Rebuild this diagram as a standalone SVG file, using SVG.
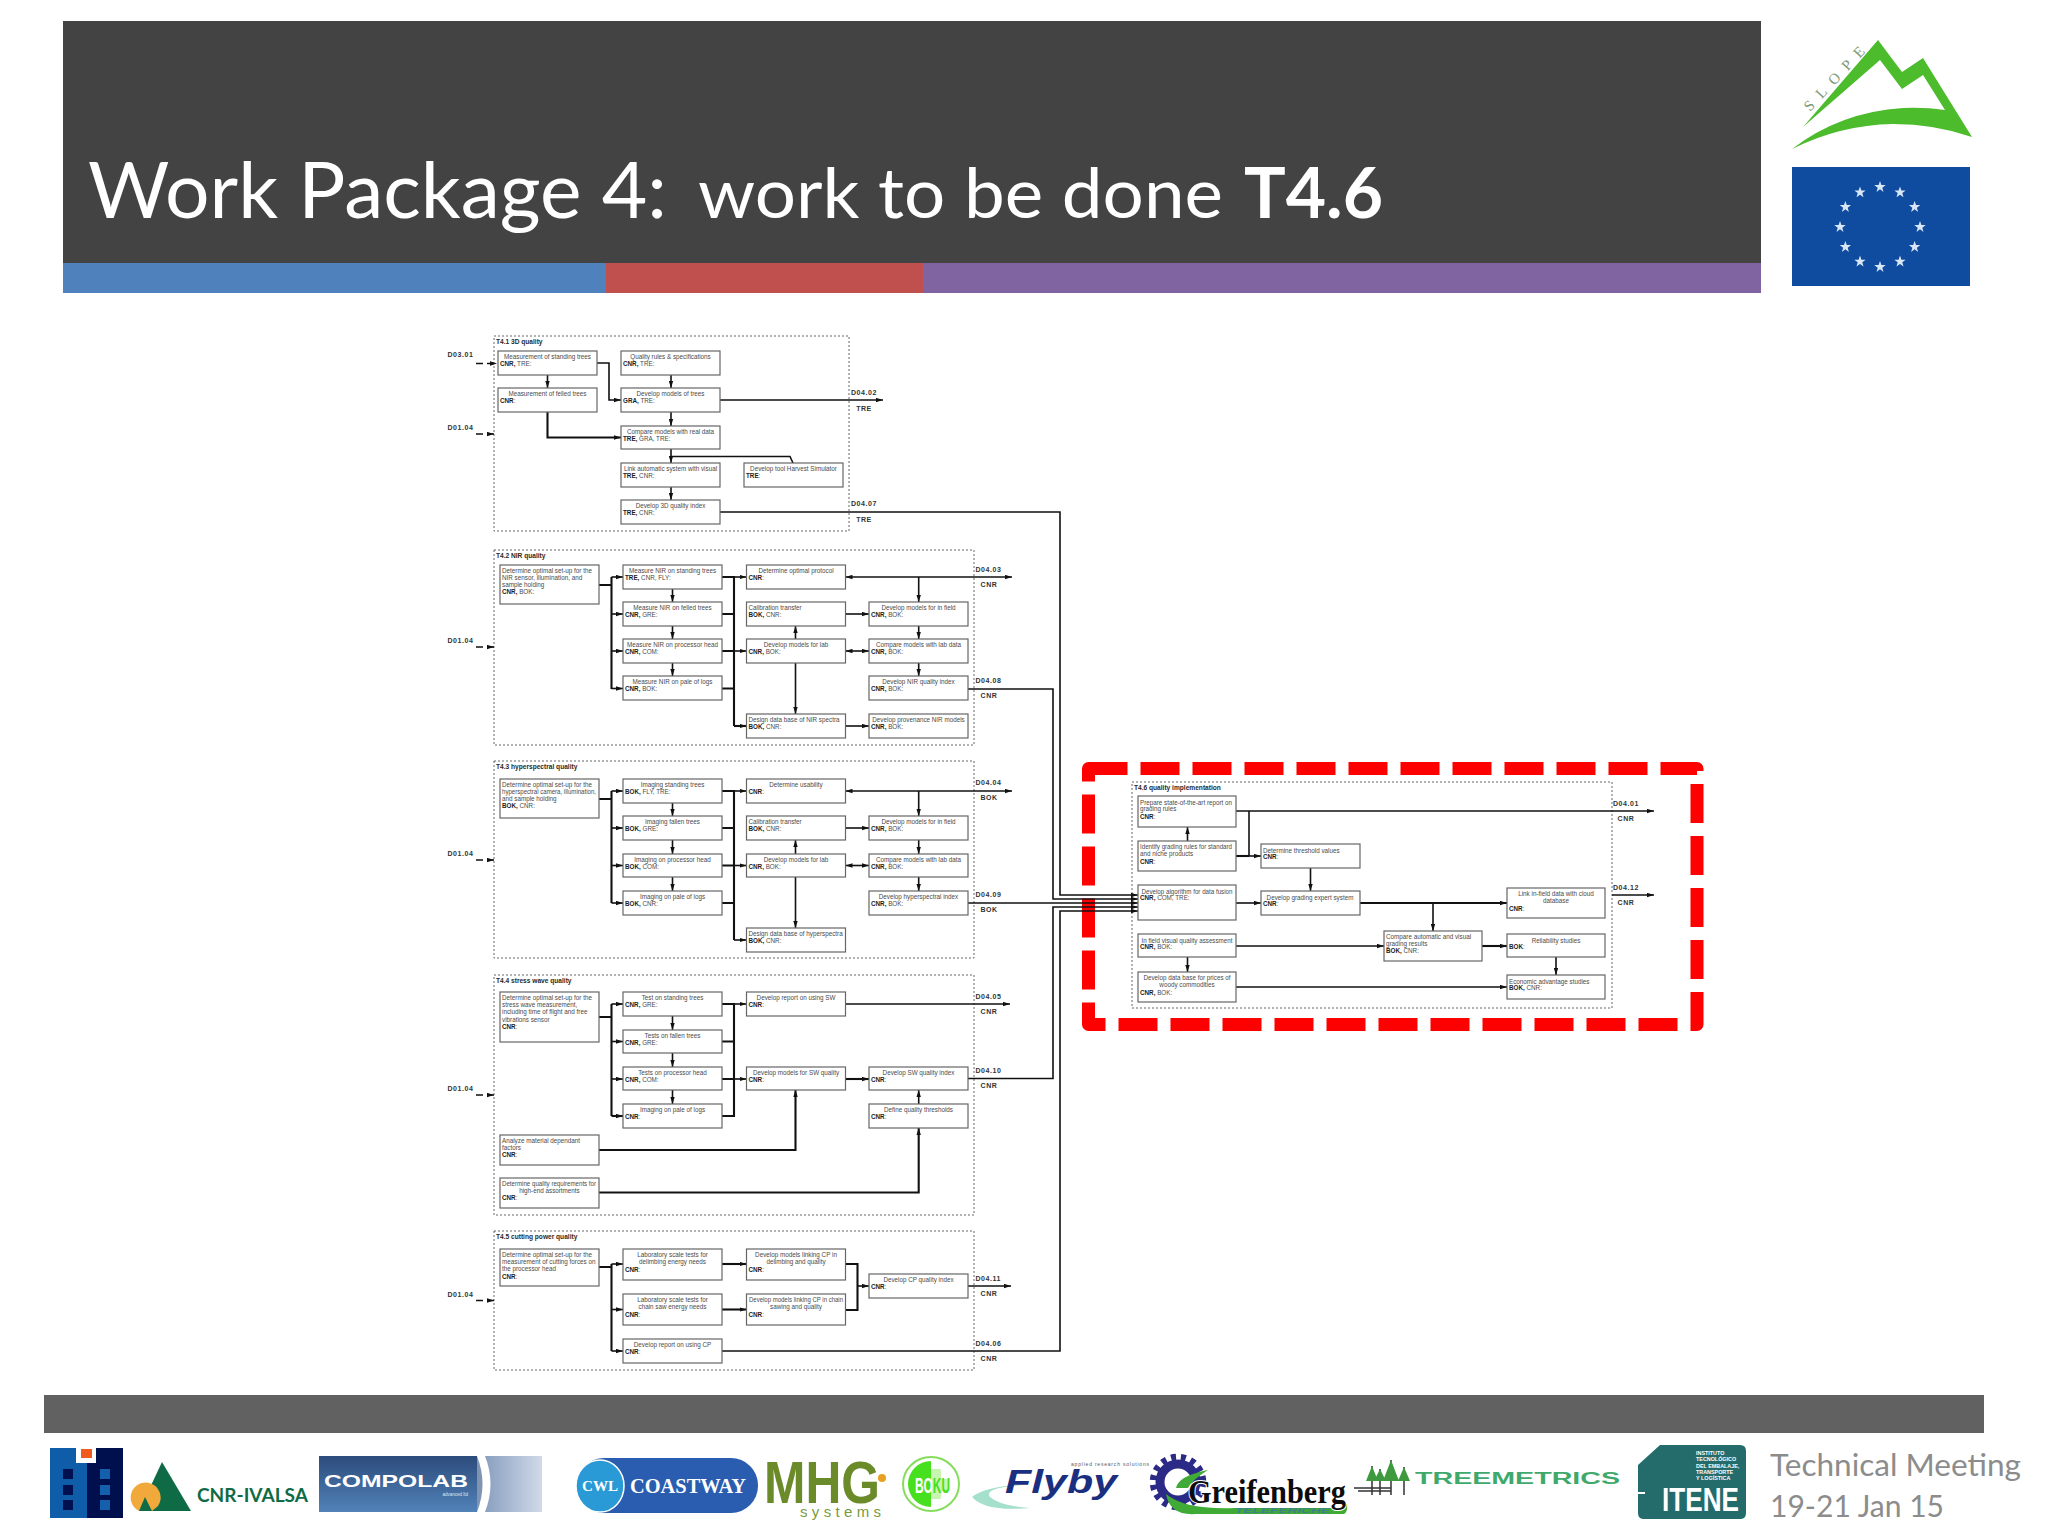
<svg xmlns="http://www.w3.org/2000/svg" width="2048" height="1536" viewBox="0 0 2048 1536">
<style>
.t{font-family:"Liberation Sans",Arial,sans-serif;font-size:6.3px;fill:#4a4a4a}
.s{font-weight:700;fill:#1c1c1c}
.m{text-anchor:middle}
.n{fill:#fff;stroke:#666;stroke-width:1.2}
.k{fill:none;stroke:#666;stroke-width:1;stroke-dasharray:2 2}
.h{font-family:"Liberation Sans",Arial,sans-serif;font-size:6.6px;font-weight:700;fill:#2a2a2a}
.d{font-family:"Liberation Sans",Arial,sans-serif;font-size:7px;font-weight:700;fill:#333;letter-spacing:.55px}
.c{fill:none;stroke:#111;stroke-width:1.6}
.w{stroke-width:2.1}
.e{marker-end:url(#a)}
.r{marker-start:url(#b)}
.i{stroke-dasharray:7 4}
.l{font-family:Lato,"Open Sans",sans-serif}
.sa{font-family:"Liberation Sans",Arial,sans-serif}
.se{font-family:"Liberation Serif","Times New Roman",serif}
</style>
<defs>
<marker id="a" markerUnits="userSpaceOnUse" markerWidth="8" markerHeight="5" refX="7" refY="2.5" orient="auto"><path d="M0 .3L7 2.5L0 4.7Z" fill="#111"/></marker>
<marker id="b" markerUnits="userSpaceOnUse" markerWidth="8" markerHeight="5" refX="7" refY="2.5" orient="auto-start-reverse"><path d="M0 .3L7 2.5L0 4.7Z" fill="#111"/></marker>
<polygon id="st" points="0,-6 1.4,-1.9 5.7,-1.9 2.3,.7 3.5,4.9 0,2.3 -3.5,4.9 -2.3,.7 -5.7,-1.9 -1.4,-1.9" fill="#d8e6f5"/>
<linearGradient id="g1" x1="0" y1="0" x2="0" y2="1"><stop offset="0" stop-color="#2c4c7c"/><stop offset="1" stop-color="#5182b8"/></linearGradient>
<linearGradient id="g2" x1="0" y1="0" x2="1" y2="0"><stop offset="0" stop-color="#8a9fc0"/><stop offset="1" stop-color="#d0dae8"/></linearGradient>
</defs>
<rect width="2048" height="1536" fill="#fff"/>

<g id="header">
<rect x="63" y="21" width="1698" height="242" fill="#434343"/>
<rect x="63" y="263" width="543" height="30" fill="#4f81bd"/>
<rect x="606" y="263" width="317" height="30" fill="#c0504d"/>
<rect x="923" y="263" width="838" height="30" fill="#8064a2"/>
<text class="l" x="88" y="218" font-size="78" fill="#fff" textLength="579" lengthAdjust="spacingAndGlyphs">Work Package 4:</text>
<text class="l" x="698" y="218" font-size="70" fill="#fff" textLength="525" lengthAdjust="spacingAndGlyphs">work to be done</text>
<text class="l" x="1244" y="218" font-size="70" font-weight="700" fill="#fff" textLength="139" lengthAdjust="spacingAndGlyphs">T4.6</text>
</g>

<g id="logo-slope">
<path d="M1803 127L1878 40L1902 72L1923 58L1972 137Q1935 124 1893 124Q1840 125 1792 149Q1840 112 1903 108Q1925 107 1945 110L1923 75L1902 89L1880 60Z" fill="#4cbb2c"/>
<text class="se" transform="translate(1810 112) rotate(-47)" font-size="15" fill="#7d9a78" letter-spacing="9">SLOPE</text>
</g>
<g id="logo-eu">
<rect x="1792" y="167" width="178" height="119" fill="#0f4c9f"/>
<use href="#st" x="1880" y="187"/><use href="#st" x="1900" y="192.4"/><use href="#st" x="1914.6" y="207"/><use href="#st" x="1920" y="227"/><use href="#st" x="1914.6" y="247"/><use href="#st" x="1900" y="261.6"/><use href="#st" x="1880" y="267"/><use href="#st" x="1860" y="261.6"/><use href="#st" x="1845.4" y="247"/><use href="#st" x="1840" y="227"/><use href="#st" x="1845.4" y="207"/><use href="#st" x="1860" y="192.4"/>
</g>

<g id="containers">
<rect class="k" x="494" y="336" width="355" height="195"/>
<rect class="k" x="494" y="550" width="480" height="195"/>
<rect class="k" x="494" y="761" width="480" height="197"/>
<rect class="k" x="494" y="975" width="480" height="240"/>
<rect class="k" x="494" y="1231" width="480" height="139"/>
<rect class="k" x="1132" y="782" width="480" height="226"/>
<text class="h" x="496" y="344">T4.1 3D quality</text>
<text class="h" x="496" y="558">T4.2 NIR quality</text>
<text class="h" x="496" y="769">T4.3 hyperspectral quality</text>
<text class="h" x="496" y="983">T4.4 stress wave quality</text>
<text class="h" x="496" y="1239">T4.5 cutting power quality</text>
<text class="h" x="1134" y="790">T4.6 quality implementation</text>
</g>

<path id="red-highlight" d="M1088.5 768.5H1697V1024.5H1088.5Z" fill="none" stroke="#ff0000" stroke-width="13" stroke-linejoin="round" stroke-dasharray="39 13"/>

<g id="connectors">
<path class="c i e" d="M476 363.5H497"/>
<path class="c i e" d="M476 434H494"/>
<path class="c i e" d="M476 647H494"/>
<path class="c i e" d="M476 860H494"/>
<path class="c i e" d="M476 1095H494"/>
<path class="c i e" d="M476 1300.5H494"/>

<path class="c e" d="M597 363H609V400H621"/>
<path class="c e" d="M547.5 375V388"/>
<path class="c w e" d="M547.5 412V437.5H621"/>
<path class="c e" d="M671 375V388"/>
<path class="c e" d="M671 412V426"/>
<path class="c e" d="M671 449V463"/>
<path class="c" d="M671 456.5H790L793 463"/>
<path class="c e" d="M671 487V500"/>
<path class="c e" d="M720 400H883"/>
<path class="c e" d="M720 512H1060V895H1138"/>

<path class="c w" d="M599 585H611.5M611.5 577V689"/>
<path class="c e" d="M611.5 577H623"/><path class="c e" d="M611.5 614H623"/><path class="c e" d="M611.5 651H623"/><path class="c e" d="M611.5 688.5H623"/>
<path class="c e" d="M672.5 589V602"/><path class="c e" d="M672.5 626V639"/><path class="c e" d="M672.5 663V676"/>
<path class="c w" d="M722 577H734M722 614H734M722 651H734M722 688.5H734M734 576V726"/>
<path class="c e" d="M734 577H746.5"/><path class="c e" d="M734 651H746.5"/><path class="c w e" d="M734 726H746.5"/>
<path class="c e" d="M795.5 639V626"/><path class="c e" d="M795.5 663V714"/>
<path class="c e" d="M845.5 614H869"/><path class="c r e" d="M845.5 651H869"/><path class="c e" d="M845.5 726H869"/>
<path class="c r e" d="M845.5 577H1012"/><path class="c e" d="M918.7 577V602"/><path class="c e" d="M918.7 626V639"/><path class="c e" d="M918.7 663V676"/>
<path class="c e" d="M968 689H1053V899H1138"/>

<path class="c w" d="M599 799H611.5M611.5 791V903"/>
<path class="c e" d="M611.5 791H623"/><path class="c e" d="M611.5 828H623"/><path class="c e" d="M611.5 865.5H623"/><path class="c e" d="M611.5 903H623"/>
<path class="c e" d="M672.5 803V816"/><path class="c e" d="M672.5 840V854"/><path class="c e" d="M672.5 877V891"/>
<path class="c w" d="M722 791H734M722 828H734M722 865.5H734M722 903H734M734 790V940"/>
<path class="c e" d="M734 791H746.5"/><path class="c e" d="M734 865.5H746.5"/><path class="c e" d="M734 940H746.5"/>
<path class="c e" d="M795.5 854V840"/><path class="c e" d="M795.5 877V928"/>
<path class="c e" d="M845.5 828H869"/><path class="c r e" d="M845.5 865.5H869"/>
<path class="c r e" d="M845.5 791H1012"/><path class="c e" d="M918.7 791V816"/><path class="c e" d="M918.7 840V854"/><path class="c e" d="M918.7 877V891"/>
<path class="c e" d="M968 903H1138"/>

<path class="c w" d="M599 1017H611.5M611.5 1004V1116"/>
<path class="c e" d="M611.5 1004H623"/><path class="c e" d="M611.5 1041.5H623"/><path class="c e" d="M611.5 1079H623"/><path class="c w e" d="M611.5 1116H623"/>
<path class="c e" d="M672.5 1016V1030"/><path class="c e" d="M672.5 1053V1067"/><path class="c e" d="M672.5 1090V1104"/>
<path class="c w" d="M722 1004H734M722 1041.5H734M722 1079H734M722 1116H734M734 1003V1117"/>
<path class="c e" d="M734 1004H746.5"/><path class="c e" d="M734 1079H746.5"/>
<path class="c e" d="M845.5 1004H1010"/>
<path class="c w e" d="M845.5 1079H869"/>
<path class="c e" d="M968 1078.5H1053V907H1138"/>
<path class="c e" d="M918.7 1104V1090"/>
<path class="c w e" d="M599 1150H795.5V1090"/>
<path class="c w e" d="M599 1192.5H918.7V1128"/>

<path class="c w" d="M599 1267H611.5M611.5 1264V1351"/>
<path class="c e" d="M611.5 1264H623"/><path class="c e" d="M611.5 1309.5H623"/><path class="c e" d="M611.5 1351H623"/>
<path class="c w e" d="M722 1264H746.5"/><path class="c w e" d="M722 1309.5H746.5"/>
<path class="c w" d="M845.5 1264H857.5V1310H845.5"/>
<path class="c e" d="M857.5 1286H869"/>
<path class="c e" d="M968 1286H1011"/>
<path class="c e" d="M722 1351H1060V911H1138"/>

<path class="c e" d="M1236 811H1654"/>
<path class="c" d="M1249 811V856"/>
<path class="c w" d="M1236 856H1249"/><path class="c e" d="M1249 856H1261"/>
<path class="c e" d="M1187.5 841V827"/>
<path class="c e" d="M1310.5 868V891"/>
<path class="c e" d="M1236 903H1261"/>
<path class="c w e" d="M1360 903H1507"/>
<path class="c e" d="M1433 903V931"/>
<path class="c e" d="M1236 946H1384"/>
<path class="c e" d="M1187.5 957V972"/>
<path class="c w e" d="M1482 946H1507"/>
<path class="c e" d="M1556 957V975"/>
<path class="c e" d="M1236 987H1507"/>
<path class="c e" d="M1612 895H1654"/>
</g>

<g id="labels">
<text class="d" x="447.5" y="356.5">D03.01</text>
<text class="d" x="447.5" y="429.5">D01.04</text>
<text class="d" x="447.5" y="643">D01.04</text>
<text class="d" x="447.5" y="856">D01.04</text>
<text class="d" x="447.5" y="1091">D01.04</text>
<text class="d" x="447.5" y="1296.5">D01.04</text>
<text class="d" x="851" y="394.5">D04.02</text><text class="d m" x="864" y="410.5">TRE</text>
<text class="d" x="851" y="505.5">D04.07</text><text class="d m" x="864" y="521.5">TRE</text>
<text class="d" x="975.5" y="571.5">D04.03</text><text class="d m" x="989" y="586.5">CNR</text>
<text class="d" x="975.5" y="683">D04.08</text><text class="d m" x="989" y="698">CNR</text>
<text class="d" x="975.5" y="785">D04.04</text><text class="d m" x="989" y="800">BOK</text>
<text class="d" x="975.5" y="896.5">D04.09</text><text class="d m" x="989" y="912">BOK</text>
<text class="d" x="975.5" y="998.5">D04.05</text><text class="d m" x="989" y="1013.5">CNR</text>
<text class="d" x="975.5" y="1073">D04.10</text><text class="d m" x="989" y="1088">CNR</text>
<text class="d" x="975.5" y="1280.5">D04.11</text><text class="d m" x="989" y="1295.5">CNR</text>
<text class="d" x="975.5" y="1345.5">D04.06</text><text class="d m" x="989" y="1360.5">CNR</text>
<text class="d" x="1613" y="805.5">D04.01</text><text class="d m" x="1626" y="820.5">CNR</text>
<text class="d" x="1613" y="889.5">D04.12</text><text class="d m" x="1626" y="904.5">CNR</text>
</g>

<g id="n-4-1-a"><rect class="n" x="498" y="351" width="99" height="24"/><text class="t m" x="547.5" y="359">Measurement of standing trees</text><text class="t" x="500" y="366"><tspan class="s">CNR,</tspan> TRE:</text></g>
<g id="n-4-1-b"><rect class="n" x="498" y="388" width="99" height="24"/><text class="t m" x="547.5" y="396">Measurement of felled trees</text><text class="t" x="500" y="403"><tspan class="s">CNR</tspan>:</text></g>
<g id="n-4-1-c"><rect class="n" x="621" y="351" width="99" height="24"/><text class="t m" x="670.5" y="359">Quality rules &amp; specifications</text><text class="t" x="623" y="366"><tspan class="s">CNR,</tspan> TRE:</text></g>
<g id="n-4-1-d"><rect class="n" x="621" y="388" width="99" height="24"/><text class="t m" x="670.5" y="396">Develop models of trees</text><text class="t" x="623" y="403"><tspan class="s">GRA,</tspan> TRE:</text></g>
<g id="n-4-1-e"><rect class="n" x="621" y="426" width="99" height="23"/><text class="t m" x="670.5" y="434">Compare models with real data</text><text class="t" x="623" y="441"><tspan class="s">TRE,</tspan> GRA, TRE:</text></g>
<g id="n-4-1-f"><rect class="n" x="621" y="463" width="99" height="24"/><text class="t m" x="670.5" y="471">Link automatic system with visual</text><text class="t" x="623" y="478"><tspan class="s">TRE,</tspan> CNR:</text></g>
<g id="n-4-1-g"><rect class="n" x="744" y="463" width="99" height="24"/><text class="t m" x="793.5" y="471">Develop tool Harvest Simulator</text><text class="t" x="746" y="478"><tspan class="s">TRE</tspan>:</text></g>
<g id="n-4-1-h"><rect class="n" x="621" y="500" width="99" height="24"/><text class="t m" x="670.5" y="508">Develop 3D quality index</text><text class="t" x="623" y="515"><tspan class="s">TRE,</tspan> CNR:</text></g>

<g id="n-4-2-a"><rect class="n" x="500" y="565" width="99" height="39"/><text class="t" x="502" y="573">Determine optimal set-up for the</text><text class="t" x="502" y="580">NIR sensor, illumination, and</text><text class="t" x="502" y="587">sample holding</text><text class="t" x="502" y="594"><tspan class="s">CNR,</tspan> BOK:</text></g>
<g id="n-4-2-b"><rect class="n" x="623" y="565" width="99" height="24"/><text class="t m" x="672.5" y="573">Measure NIR on standing trees</text><text class="t" x="625" y="580"><tspan class="s">TRE,</tspan> CNR, FLY:</text></g>
<g id="n-4-2-c"><rect class="n" x="623" y="602" width="99" height="24"/><text class="t m" x="672.5" y="610">Measure NIR on felled trees</text><text class="t" x="625" y="617"><tspan class="s">CNR,</tspan> GRE:</text></g>
<g id="n-4-2-d"><rect class="n" x="623" y="639" width="99" height="24"/><text class="t m" x="672.5" y="647">Measure NIR on processor head</text><text class="t" x="625" y="654"><tspan class="s">CNR,</tspan> COM:</text></g>
<g id="n-4-2-e"><rect class="n" x="623" y="676" width="99" height="24"/><text class="t m" x="672.5" y="684">Measure NIR on pale of logs</text><text class="t" x="625" y="691"><tspan class="s">CNR,</tspan> BOK:</text></g>
<g id="n-4-2-f"><rect class="n" x="746.5" y="565" width="99" height="24"/><text class="t m" x="796" y="573">Determine optimal protocol</text><text class="t" x="748.5" y="580"><tspan class="s">CNR</tspan>:</text></g>
<g id="n-4-2-g"><rect class="n" x="746.5" y="602" width="99" height="24"/><text class="t" x="748.5" y="610">Calibration transfer</text><text class="t" x="748.5" y="617"><tspan class="s">BOK,</tspan> CNR:</text></g>
<g id="n-4-2-h"><rect class="n" x="746.5" y="639" width="99" height="24"/><text class="t m" x="796" y="647">Develop models for lab</text><text class="t" x="748.5" y="654"><tspan class="s">CNR,</tspan> BOK:</text></g>
<g id="n-4-2-i"><rect class="n" x="746.5" y="714" width="99" height="24"/><text class="t" x="748.5" y="722">Design data base of NIR spectra</text><text class="t" x="748.5" y="729"><tspan class="s">BOK,</tspan> CNR:</text></g>
<g id="n-4-2-j"><rect class="n" x="869" y="602" width="99" height="24"/><text class="t m" x="918.5" y="610">Develop models for in field</text><text class="t" x="871" y="617"><tspan class="s">CNR,</tspan> BOK:</text></g>
<g id="n-4-2-k"><rect class="n" x="869" y="639" width="99" height="24"/><text class="t m" x="918.5" y="647">Compare models with lab data</text><text class="t" x="871" y="654"><tspan class="s">CNR,</tspan> BOK:</text></g>
<g id="n-4-2-l"><rect class="n" x="869" y="676" width="99" height="24"/><text class="t m" x="918.5" y="684">Develop NIR quality index</text><text class="t" x="871" y="691"><tspan class="s">CNR,</tspan> BOK:</text></g>
<g id="n-4-2-m"><rect class="n" x="869" y="714" width="99" height="24"/><text class="t m" x="918.5" y="722">Develop provenance NIR models</text><text class="t" x="871" y="729"><tspan class="s">CNR,</tspan> BOK:</text></g>

<g id="n-4-3-a"><rect class="n" x="500" y="779" width="99" height="39"/><text class="t" x="502" y="787">Determine optimal set-up for the</text><text class="t" x="502" y="794" textLength="94" lengthAdjust="spacingAndGlyphs">hyperspectral camera, illumination,</text><text class="t" x="502" y="801">and sample holding</text><text class="t" x="502" y="808"><tspan class="s">BOK,</tspan> CNR:</text></g>
<g id="n-4-3-b"><rect class="n" x="623" y="779" width="99" height="24"/><text class="t m" x="672.5" y="787">Imaging standing trees</text><text class="t" x="625" y="794"><tspan class="s">BOK,</tspan> FLY, TRE:</text></g>
<g id="n-4-3-c"><rect class="n" x="623" y="816" width="99" height="24"/><text class="t m" x="672.5" y="824">Imaging fallen trees</text><text class="t" x="625" y="831"><tspan class="s">BOK,</tspan> GRE:</text></g>
<g id="n-4-3-d"><rect class="n" x="623" y="854" width="99" height="23"/><text class="t m" x="672.5" y="862">Imaging on processor head</text><text class="t" x="625" y="869"><tspan class="s">BOK,</tspan> COM:</text></g>
<g id="n-4-3-e"><rect class="n" x="623" y="891" width="99" height="24"/><text class="t m" x="672.5" y="899">Imaging on pale of logs</text><text class="t" x="625" y="906"><tspan class="s">BOK,</tspan> CNR:</text></g>
<g id="n-4-3-f"><rect class="n" x="746.5" y="779" width="99" height="24"/><text class="t m" x="796" y="787">Determine usability</text><text class="t" x="748.5" y="794"><tspan class="s">CNR</tspan>:</text></g>
<g id="n-4-3-g"><rect class="n" x="746.5" y="816" width="99" height="24"/><text class="t" x="748.5" y="824">Calibration transfer</text><text class="t" x="748.5" y="831"><tspan class="s">BOK,</tspan> CNR:</text></g>
<g id="n-4-3-h"><rect class="n" x="746.5" y="854" width="99" height="23"/><text class="t m" x="796" y="862">Develop models for lab</text><text class="t" x="748.5" y="869"><tspan class="s">CNR,</tspan> BOK:</text></g>
<g id="n-4-3-i"><rect class="n" x="746.5" y="928" width="99" height="24"/><text class="t" x="748.5" y="936">Design data base of hyperspectra</text><text class="t" x="748.5" y="943"><tspan class="s">BOK,</tspan> CNR:</text></g>
<g id="n-4-3-j"><rect class="n" x="869" y="816" width="99" height="24"/><text class="t m" x="918.5" y="824">Develop models for in field</text><text class="t" x="871" y="831"><tspan class="s">CNR,</tspan> BOK:</text></g>
<g id="n-4-3-k"><rect class="n" x="869" y="854" width="99" height="23"/><text class="t m" x="918.5" y="862">Compare models with lab data</text><text class="t" x="871" y="869"><tspan class="s">CNR,</tspan> BOK:</text></g>
<g id="n-4-3-l"><rect class="n" x="869" y="891" width="99" height="24"/><text class="t m" x="918.5" y="899">Develop hyperspectral index</text><text class="t" x="871" y="906"><tspan class="s">CNR,</tspan> BOK:</text></g>

<g id="n-4-4-a"><rect class="n" x="500" y="992" width="99" height="50"/><text class="t" x="502" y="1000">Determine optimal set-up for the</text><text class="t" x="502" y="1007">stress wave measurement,</text><text class="t" x="502" y="1014">including time of flight and free</text><text class="t" x="502" y="1021.5">vibrations sensor</text><text class="t" x="502" y="1029"><tspan class="s">CNR</tspan>:</text></g>
<g id="n-4-4-b"><rect class="n" x="623" y="992" width="99" height="24"/><text class="t m" x="672.5" y="1000">Test on standing trees</text><text class="t" x="625" y="1007"><tspan class="s">CNR,</tspan> GRE:</text></g>
<g id="n-4-4-c"><rect class="n" x="623" y="1030" width="99" height="23"/><text class="t m" x="672.5" y="1038">Tests on fallen trees</text><text class="t" x="625" y="1045"><tspan class="s">CNR,</tspan> GRE:</text></g>
<g id="n-4-4-d"><rect class="n" x="623" y="1067" width="99" height="23"/><text class="t m" x="672.5" y="1075">Tests on processor head</text><text class="t" x="625" y="1082"><tspan class="s">CNR,</tspan> COM:</text></g>
<g id="n-4-4-e"><rect class="n" x="623" y="1104" width="99" height="24"/><text class="t m" x="672.5" y="1112">Imaging on pale of logs</text><text class="t" x="625" y="1119"><tspan class="s">CNR</tspan>:</text></g>
<g id="n-4-4-f"><rect class="n" x="746.5" y="992" width="99" height="24"/><text class="t m" x="796" y="1000">Develop report on using SW</text><text class="t" x="748.5" y="1007"><tspan class="s">CNR</tspan>:</text></g>
<g id="n-4-4-g"><rect class="n" x="746.5" y="1067" width="99" height="23"/><text class="t m" x="796" y="1075">Develop models for SW quality</text><text class="t" x="748.5" y="1082"><tspan class="s">CNR</tspan>:</text></g>
<g id="n-4-4-h"><rect class="n" x="869" y="1067" width="99" height="23"/><text class="t m" x="918.5" y="1075">Develop SW quality index</text><text class="t" x="871" y="1082"><tspan class="s">CNR</tspan>:</text></g>
<g id="n-4-4-i"><rect class="n" x="869" y="1104" width="99" height="24"/><text class="t m" x="918.5" y="1112">Define quality thresholds</text><text class="t" x="871" y="1119"><tspan class="s">CNR</tspan>:</text></g>
<g id="n-4-4-j"><rect class="n" x="500" y="1135" width="99" height="30"/><text class="t" x="502" y="1143">Analyze material dependant</text><text class="t" x="502" y="1150">factors</text><text class="t" x="502" y="1157"><tspan class="s">CNR</tspan>:</text></g>
<g id="n-4-4-k"><rect class="n" x="500" y="1178" width="99" height="30"/><text class="t" x="502" y="1186" textLength="94" lengthAdjust="spacingAndGlyphs">Determine quality requirements for</text><text class="t m" x="549.5" y="1193">high-end assortments</text><text class="t" x="502" y="1200"><tspan class="s">CNR</tspan>:</text></g>

<g id="n-4-5-a"><rect class="n" x="500" y="1249" width="99" height="37"/><text class="t" x="502" y="1257">Determine optimal set-up for the</text><text class="t" x="502" y="1264">measurement of cutting forces on</text><text class="t" x="502" y="1271">the processor head</text><text class="t" x="502" y="1278.5"><tspan class="s">CNR</tspan>:</text></g>
<g id="n-4-5-b"><rect class="n" x="623" y="1249" width="99" height="31"/><text class="t m" x="672.5" y="1257">Laboratory scale tests for</text><text class="t m" x="672.5" y="1264">delimbing energy needs</text><text class="t" x="625" y="1271.5"><tspan class="s">CNR</tspan>:</text></g>
<g id="n-4-5-c"><rect class="n" x="623" y="1294" width="99" height="31"/><text class="t m" x="672.5" y="1302">Laboratory scale tests for</text><text class="t m" x="672.5" y="1309">chain saw energy needs</text><text class="t" x="625" y="1316.5"><tspan class="s">CNR</tspan>:</text></g>
<g id="n-4-5-d"><rect class="n" x="623" y="1339" width="99" height="24"/><text class="t m" x="672.5" y="1347">Develop report on using CP</text><text class="t" x="625" y="1354"><tspan class="s">CNR</tspan>:</text></g>
<g id="n-4-5-e"><rect class="n" x="746.5" y="1249" width="99" height="31"/><text class="t m" x="796" y="1257">Develop models linking CP in</text><text class="t m" x="796" y="1264">delimbing and quality</text><text class="t" x="748.5" y="1271.5"><tspan class="s">CNR</tspan>:</text></g>
<g id="n-4-5-f"><rect class="n" x="746.5" y="1294" width="99" height="31"/><text class="t m" x="796" y="1302" textLength="94" lengthAdjust="spacingAndGlyphs">Develop models linking CP in chain</text><text class="t m" x="796" y="1309">sawing and quality</text><text class="t" x="748.5" y="1316.5"><tspan class="s">CNR</tspan>:</text></g>
<g id="n-4-5-g"><rect class="n" x="869" y="1274" width="99" height="24"/><text class="t m" x="918.5" y="1282">Develop CP quality index</text><text class="t" x="871" y="1289"><tspan class="s">CNR</tspan>:</text></g>

<g id="n-4-6-a"><rect class="n" x="1138" y="796" width="98" height="31"/><text class="t" x="1140" y="804.5" textLength="92" lengthAdjust="spacingAndGlyphs">Prepare state-of-the-art report on</text><text class="t" x="1140" y="811">grading rules</text><text class="t" x="1140" y="818.5"><tspan class="s">CNR</tspan>:</text></g>
<g id="n-4-6-b"><rect class="n" x="1138" y="841" width="98" height="30"/><text class="t" x="1140" y="849" textLength="92" lengthAdjust="spacingAndGlyphs">Identify grading rules for standard</text><text class="t" x="1140" y="856">and niche products</text><text class="t" x="1140" y="863.5"><tspan class="s">CNR</tspan>:</text></g>
<g id="n-4-6-c"><rect class="n" x="1138" y="885" width="98" height="35"/><text class="t m" x="1187" y="893.5" textLength="91" lengthAdjust="spacingAndGlyphs">Develop algorithm for data fusion</text><text class="t" x="1140" y="900"><tspan class="s">CNR,</tspan> COM, TRE:</text></g>
<g id="n-4-6-d"><rect class="n" x="1138" y="934" width="98" height="23"/><text class="t m" x="1187" y="942.5" textLength="91" lengthAdjust="spacingAndGlyphs">In field visual quality assessment</text><text class="t" x="1140" y="949"><tspan class="s">CNR,</tspan> BOK:</text></g>
<g id="n-4-6-e"><rect class="n" x="1138" y="972" width="98" height="30"/><text class="t m" x="1187" y="980">Develop data base for prices of</text><text class="t m" x="1187" y="987">woody commodities</text><text class="t" x="1140" y="994.5"><tspan class="s">CNR,</tspan> BOK:</text></g>
<g id="n-4-6-f"><rect class="n" x="1261" y="844" width="99" height="24"/><text class="t" x="1263" y="852.5">Determine threshold values</text><text class="t" x="1263" y="859"><tspan class="s">CNR</tspan>:</text></g>
<g id="n-4-6-g"><rect class="n" x="1261" y="891" width="99" height="24"/><text class="t m" x="1310" y="899.5">Develop grading expert system</text><text class="t" x="1263" y="906"><tspan class="s">CNR</tspan>:</text></g>
<g id="n-4-6-h"><rect class="n" x="1384" y="931" width="98" height="30"/><text class="t" x="1386" y="939">Compare automatic and visual</text><text class="t" x="1386" y="946">grading results</text><text class="t" x="1386" y="953"><tspan class="s">BOK,</tspan> CNR:</text></g>
<g id="n-4-6-i"><rect class="n" x="1507" y="888" width="98" height="30"/><text class="t m" x="1556" y="896">Link in-field data with cloud</text><text class="t m" x="1556" y="903">database</text><text class="t" x="1509" y="910.5"><tspan class="s">CNR</tspan>:</text></g>
<g id="n-4-6-j"><rect class="n" x="1507" y="934" width="98" height="23"/><text class="t m" x="1556" y="942.5">Reliability studies</text><text class="t" x="1509" y="949"><tspan class="s">BOK</tspan>:</text></g>
<g id="n-4-6-k"><rect class="n" x="1507" y="975" width="98" height="24"/><text class="t" x="1509" y="983.5">Economic advantage studies</text><text class="t" x="1509" y="990"><tspan class="s">BOK,</tspan> CNR:</text></g>

<rect id="footer-bar" x="44" y="1395" width="1940" height="38" fill="#616161"/>

<g id="logo-building">
<rect x="50" y="1448" width="37" height="70" fill="#0f5ca8"/><rect x="87" y="1448" width="36" height="70" fill="#00104f"/>
<rect x="76" y="1448" width="20" height="15" fill="#fff"/><rect x="81" y="1449" width="11" height="9" fill="#f05a1e"/>
<path d="M63 1469h10v10h-10zM63 1485h10v10h-10zM63 1500h10v10h-10z" fill="#001050"/>
<path d="M100 1469h10v10h-10zM100 1485h10v10h-10zM100 1500h10v10h-10z" fill="#1560ad"/>
</g>
<g id="logo-cnr">
<path d="M162 1462L191 1511H139Z" fill="#0f6b45"/>
<path d="M139 1511A15 15 0 1 1 158 1506L152 1511Z" fill="#f2a93b"/>
<path d="M145 1497L152 1511H139Z" fill="#0f6b45"/>
<text class="l" x="197" y="1502" font-size="18" font-weight="700" fill="#0f6b45" textLength="111" lengthAdjust="spacingAndGlyphs">CNR-IVALSA</text>
</g>
<g id="logo-compolab">
<rect x="319" y="1456" width="158" height="56" fill="url(#g1)"/>
<path d="M477 1456Q488 1484 477 1512" fill="#2c4c7c" opacity=".6"/>
<path d="M485 1456H542V1512H485Q496 1484 485 1456Z" fill="url(#g2)"/>
<text class="sa" x="324" y="1487" font-size="17" font-weight="700" fill="#fff" textLength="144" lengthAdjust="spacingAndGlyphs">COMPOLAB</text>
<text class="sa" x="468" y="1496" font-size="4.5" fill="#dfe8f2" text-anchor="end">advanced ltd</text>
</g>
<g id="logo-coastway">
<rect x="577" y="1458" width="181" height="55" rx="27" fill="#2a5db0"/>
<ellipse cx="600" cy="1486" rx="24" ry="26" fill="#2a9ad6" stroke="#fff" stroke-width="1.5"/>
<text class="se" x="582" y="1491" font-size="14" font-weight="700" fill="#fff" textLength="36" lengthAdjust="spacingAndGlyphs">CWL</text>
<text class="se" x="630" y="1493" font-size="22" font-weight="700" fill="#fff" textLength="116" lengthAdjust="spacingAndGlyphs">COASTWAY</text>
</g>
<g id="logo-mhg">
<text class="sa" x="764" y="1503" font-size="60" font-weight="700" fill="#6b8a2a" textLength="116" lengthAdjust="spacingAndGlyphs">MHG</text>
<circle cx="882" cy="1478" r="4" fill="#e8a020"/>
<text class="sa" x="800" y="1517" font-size="15" fill="#7a9a40" textLength="81">systems</text>
</g>
<g id="logo-boku">
<ellipse cx="931" cy="1484" rx="28" ry="27" fill="#fff" stroke="#86dd5c" stroke-width="2"/>
<path d="M931 1461A23 23 0 0 0 931 1507Z" fill="#47e01e"/>
<path d="M931 1469h10v10h8v12h-8v8h-10z" fill="#c8f5b0"/>
<text class="sa" x="915" y="1493" font-size="22" font-weight="700" fill="#fff" textLength="35" lengthAdjust="spacingAndGlyphs">BO<tspan fill="#47e01e">KU</tspan></text>
</g>
<g id="logo-flyby">
<path d="M972 1497Q985 1486 1030 1484L1005 1487Q985 1490 990 1497Q1000 1506 1030 1508Q985 1512 972 1497Z" fill="#a5e0cc"/>
<text class="sa" x="1005" y="1493" font-size="34" font-weight="700" font-style="italic" fill="#1b2f80" textLength="112" lengthAdjust="spacingAndGlyphs">Flyby</text>
<text class="sa" x="1071" y="1466" font-size="5" fill="#556" textLength="78">applied research solutions</text>
</g>
<g id="logo-greifenberg">
<circle cx="1178" cy="1482" r="25" fill="none" stroke="#2b2a86" stroke-width="6.5" stroke-dasharray="5 5"/>
<circle cx="1178" cy="1482" r="18" fill="none" stroke="#2b2a86" stroke-width="9"/>
<path d="M1166 1494Q1170 1516 1196 1514H1344Q1348 1512 1347 1504L1338 1508H1235Q1185 1510 1166 1494Z" fill="#3faa35"/>
<path d="M1176 1488Q1178 1476 1208 1470Q1192 1480 1188 1488Z" fill="#3faa35"/>
<text class="se" x="1188" y="1503" font-size="33" font-weight="700" fill="#0c0c0c" stroke="#fff" stroke-width="2" style="paint-order:stroke" textLength="158" lengthAdjust="spacingAndGlyphs">Greifenberg</text>
<text class="sa" x="1235" y="1513" font-size="7.5" font-weight="700" font-style="italic" fill="#3f7f90" textLength="95" lengthAdjust="spacingAndGlyphs">TELEFERICHE</text>
</g>
<g id="logo-treemetrics">
<path d="M1372 1466V1495M1380 1469V1495M1391 1460V1495M1404 1467V1495M1354 1488H1391M1358 1491H1391" stroke="#333" stroke-width="1.5" fill="none"/>
<path d="M1372 1466L1378 1481H1366ZM1380 1469L1386 1481H1374ZM1391 1460L1399 1481H1383ZM1404 1467L1410 1481H1398Z" fill="#3f9a3f"/>
<text class="sa" x="1415" y="1484" font-size="16" font-weight="700" fill="#3fa96b" textLength="205" lengthAdjust="spacingAndGlyphs">TREEMETRICS</text>
</g>
<g id="logo-itene">
<path d="M1660 1445H1740Q1746 1445 1746 1451V1513Q1746 1519 1740 1519H1644Q1638 1519 1638 1513V1465Z" fill="#246b6b"/>
<rect x="1638" y="1492" width="7" height="2" fill="#fff"/>
<g class="sa" font-size="5.4" font-weight="700" fill="#fff">
<text x="1696" y="1455">INSTITUTO</text><text x="1696" y="1461">TECNOLÓGICO</text><text x="1696" y="1467.5">DEL EMBALAJE,</text><text x="1696" y="1473.5">TRANSPORTE</text><text x="1696" y="1480">Y LOGÍSTICA</text>
</g>
<text class="sa" x="1662" y="1511" font-size="33" font-weight="700" fill="#fff" textLength="77" lengthAdjust="spacingAndGlyphs">ITENE</text>
</g>
<g id="footer-text">
<text class="l" x="1770" y="1476" font-size="30" fill="#8c8c8c" textLength="251" lengthAdjust="spacingAndGlyphs">Technical Meeting</text>
<text class="l" x="1770" y="1517" font-size="30" fill="#8c8c8c" textLength="174" lengthAdjust="spacingAndGlyphs">19-21 Jan 15</text>
</g>
</svg>
